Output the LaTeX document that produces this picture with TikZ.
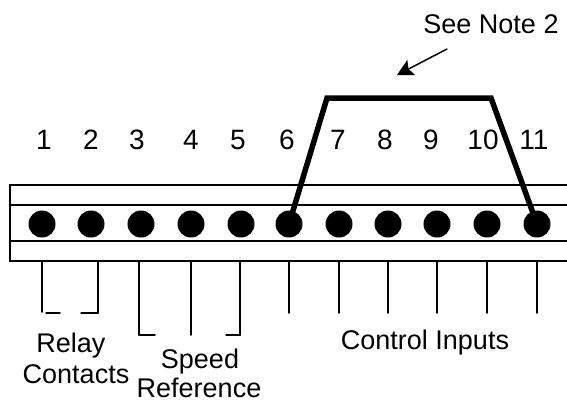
\documentclass[tikz,border=0pt]{standalone}
\usepackage{fontspec}
\setmainfont{Liberation Sans}
\usetikzlibrary{arrows.meta}

\begin{document}
\begin{tikzpicture}[x=1pt,y=-1pt,>={Stealth[length=16pt,width=17pt,inset=3pt]},line cap=round]
    \tikzstyle{lab}=[inner sep=0pt, anchor=base, font=\fontsize{27}{27}\selectfont]
    \tikzstyle{num}=[inner sep=0pt, anchor=base, font=\fontsize{28}{28}\selectfont]
    \tikzstyle{pin}=[circle, draw=none, fill=black, minimum size=27pt, inner sep=0pt]
    \tikzstyle{strip}=[line width=1.5pt]
    \tikzstyle{lead}=[line width=1.5pt]
    \tikzstyle{jumper}=[line width=5.5pt, line join=miter, line cap=butt]

    \useasboundingbox (0,0) rectangle (567,402);

    % terminal strip
    \draw[strip] (567,185) -- (10,185) -- (10,261) -- (567,261);
    \draw[strip] (10,205) -- (567,205);
    \draw[strip] (10,241) -- (567,241);

    % pins
    \foreach \n/\x in {1/42,2/91,3/141,4/191,5/241,6/289,7/339,8/388,9/437,10/487,11/537}
        \node[pin] (p\n) at (\x,224) {};

    % numbers
    \foreach \n/\x in {1/44,2/91,3/137,4/191,5/238,6/287,7/338,8/385,9/431,10/483,11/534}
        \node[num] (n\n) at (\x,149) {\n};

    % leads
    \foreach \n/\x/\y in {1/42/312,2/98/313,3/139/335,4/191/335,5/240/335,6/289/313,7/339/313,8/388/313,9/437/313,10/487/313,11/537/313} {
        \coordinate (t\n) at (\x,261);
        \coordinate (b\n) at (\x,\y);
        \draw[lead] (t\n) -- (b\n);
    }

    % brackets
    \coordinate (r0) at (46,313);
    \coordinate (r1) at (60,313);
    \coordinate (r2) at (81,313);
    \coordinate (s1) at (155,335);
    \coordinate (s2) at (226,335);
    \draw[lead] (r0) -- (r1);
    \draw[lead] (r2) -- (b2);
    \draw[lead] (b3) -- (s1);
    \draw[lead] (s2) -- (b5);

    % jumper
    \coordinate (j1) at (327,98);
    \coordinate (j2) at (491,98);
    \draw[jumper] (p6.center) -- (j1) -- (j2) -- (p11.center);

    % note
    \node[lab] (note) at (491,33) {See Note 2};
    \coordinate (a1) at (447,49);
    \coordinate (a2) at (397,75);
    \draw[->, line width=1.5pt] (a1) -- (a2);

    % labels
    \node[lab] (relay) at (71,352) {Relay};
    \node[lab] (contacts) at (76,383) {Contacts};
    \node[lab] (speed) at (200,368) {Speed};
    \node[lab] (reference) at (199,397) {Reference};
    \node[lab] (control) at (425,349) {Control Inputs};
\end{tikzpicture}
\end{document}
